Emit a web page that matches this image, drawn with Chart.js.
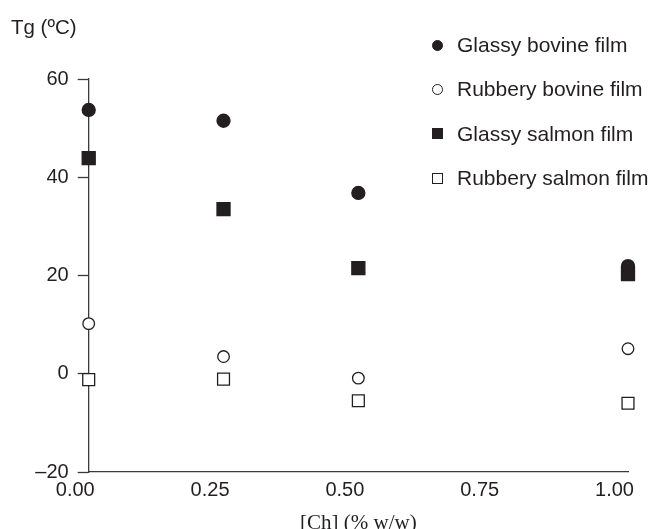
<!doctype html>
<html lang="en">
<head>
<meta charset="UTF-8" />
<title>Tg vs chitosan</title>
<script src="https://cdn.jsdelivr.net/npm/chart.js"></script>
<style>
    body { margin: 0; background: #fff; font-family: "Liberation Sans", Arial, sans-serif; color: #231f20; }
    #wrap { position: relative; width: 652px; height: 529px; }
    #ylabel { position: absolute; left: 11px; top: 14px; font-size: 20.5px; line-height: 26px; white-space: nowrap; }
    #legend { position: absolute; left: 432px; top: 23px; }
    .item { display: flex; align-items: center; height: 44.3px; font-size: 21px; white-space: nowrap; }
    .mark { width: 11px; height: 11px; margin-right: 14px; box-sizing: border-box; }
</style>
</head>
<body>
<div id="wrap">
    <canvas id="chart" width="652" height="529"></canvas>
    <div id="ylabel">Tg (ºC)</div>
    <div id="legend"></div>
</div>
<script>
    // [Ch] (% w/w) positions of the measured films
    const chConc = [0.025, 0.275, 0.525, 1.025];

    const seriesNames = [
        "Glassy bovine film",
        "Rubbery bovine film",
        "Glassy salmon film",
        "Rubbery salmon film",
    ];
    const glassyBovine = [53.7, 51.5, 36.8, 21.9];
    const rubberyBovine = [10.2, 3.5, -0.9, 5.1];
    const glassySalmon = [43.9, 33.5, 21.5, 20.3];
    const rubberySalmon = [-1.2, -1.1, -5.5, -6.0];

    const xTicks = [0, 0.25, 0.5, 0.75, 1.0];
    const yTicks = [-20, 0, 20, 40, 60];

    const ink = "#231f20";
    const series = [glassyBovine, rubberyBovine, glassySalmon, rubberySalmon];
    const looks = [
        { style: "circle", r: 6.5, fill: ink },
        { style: "circle", r: 5.8, fill: "#fff" },
        { style: "rect", r: 9.2, fill: ink },
        { style: "rect", r: 8.4, fill: "#fff" },
    ];

    const datasets = seriesNames.map((name, i) => ({
        label: name,
        data: chConc.map((x, j) => ({ x: x, y: series[i][j] })),
        pointStyle: looks[i].style,
        pointRadius: looks[i].r,
        backgroundColor: looks[i].fill,
        borderColor: ink,
        borderWidth: 1.3,
        showLine: false,
        clip: false,
    }));

    // legend (html)
    const legend = document.getElementById("legend");
    seriesNames.forEach((name, i) => {
        const row = document.createElement("div");
        row.className = "item";
        const m = document.createElement("span");
        m.className = "mark";
        m.style.background = looks[i].fill;
        m.style.border = "1.3px solid " + ink;
        if (looks[i].style === "circle") m.style.borderRadius = "50%";
        row.appendChild(m);
        row.appendChild(document.createTextNode(name));
        legend.appendChild(row);
    });

    const tickFont = { family: "'Liberation Sans', Arial, sans-serif", size: 20 };

    new Chart(document.getElementById("chart").getContext("2d"), {
        type: "scatter",
        data: { datasets: datasets },
        options: {
            responsive: false,
            animation: false,
            layout: { padding: { left: 28.7, right: 24, top: 79, bottom: 0 } },
            plugins: { legend: { display: false }, tooltip: { enabled: false } },
            scales: {
                x: {
                    type: "linear",
                    min: 0.025,
                    max: 1.025,
                    position: "bottom",
                    afterBuildTicks: (s) => { s.ticks = xTicks.map((v) => ({ value: v })); },
                    afterFit: (s) => { s.height = 57; },
                    grid: { drawOnChartArea: false, drawTicks: false },
                    border: { display: true, color: "#3a3a3a", width: 1.3 },
                    ticks: {
                        color: ink,
                        font: tickFont,
                        padding: 6,
                        maxRotation: 0,
                        autoSkip: false,
                        callback: (v) => v.toFixed(2),
                    },
                    title: {
                        display: true,
                        text: "[Ch] (% w/w)",
                        color: ink,
                        font: { family: "'Liberation Serif', 'Times New Roman', serif", size: 21, lineHeight: 1 },
                        padding: { top: 0, bottom: -5 },
                    },
                },
                y: {
                    type: "linear",
                    min: -20,
                    max: 60,
                    position: "left",
                    afterBuildTicks: (s) => { s.ticks = yTicks.map((v) => ({ value: v })); },
                    afterFit: (s) => { s.width = 60; },
                    grid: { drawOnChartArea: false, drawTicks: true, tickLength: 11, tickColor: "#3a3a3a", tickWidth: 1.3 },
                    border: { display: true, color: "#3a3a3a", width: 1.3 },
                    ticks: {
                        color: ink,
                        font: tickFont,
                        padding: 9,
                        autoSkip: false,
                        callback: (v) => String(v).replace("-", "\u2013"),
                    },
                },
            },
        },
    });
</script>
</body>
</html>
